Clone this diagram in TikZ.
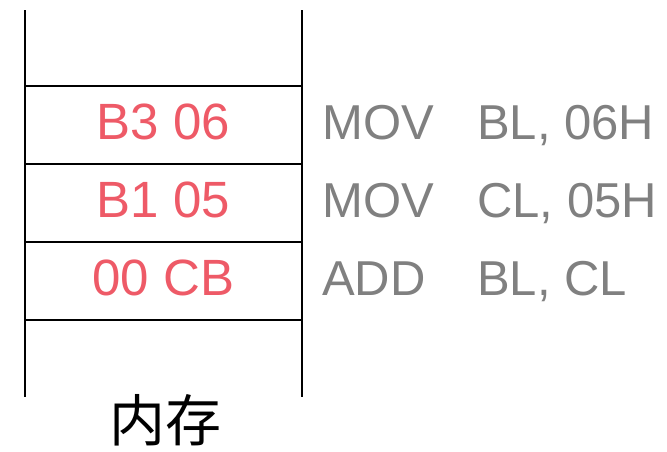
\documentclass[tikz,border=0pt]{standalone}
\usepackage{fontspec}
\setmainfont{Liberation Sans}
\newfontfamily\cjk{Noto Sans CJK SC}
\definecolor{codered}{RGB}{238,90,103}
\definecolor{asmgray}{RGB}{128,128,128}
\tikzset{
  memline/.style={line width=2.3pt, black},
  hexcode/.style={anchor=base, text=codered, font=\fontsize{51}{51}\selectfont, inner sep=0pt},
  asmtext/.style={anchor=base west, text=asmgray, font=\fontsize{49}{49}\selectfont, inner sep=0pt}
}
\begin{document}
\begin{tikzpicture}[x=1pt,y=1pt,yscale=-1,xscale=1]
\useasboundingbox (0,0) rectangle (667,451);

%Shape: memory column
\draw [memline] (25,10) -- (25,397) ;
\draw [memline] (302,10) -- (302,397) ;
\foreach \ypos in {86,164,242,320} {
  \draw [memline] (25,\ypos) -- (302,\ypos) ;
}

% Text Node
\node [hexcode] (b306) at (163.5,139) {B3 06};
\node [hexcode] (b105) at (163.5,217) {B1 05};
\node [hexcode] (cb00) at (163.5,295) {00 CB};
% Text Node
\node [asmtext] (mov1) at (322,139) {MOV};
\node [asmtext] (arg1) at (477,139) {BL, 06H};
\node [asmtext] (mov2) at (322,217) {MOV};
\node [asmtext] (arg2) at (477,217) {CL, 05H};
\node [asmtext] (add3) at (322,295) {ADD};
\node [asmtext] (arg3) at (477,295) {BL, CL};
% Text Node
\node [inner sep=0pt, font=\cjk\fontsize{56}{56}\selectfont] (mem) at (165,420) {内存};
\end{tikzpicture}
\end{document}
